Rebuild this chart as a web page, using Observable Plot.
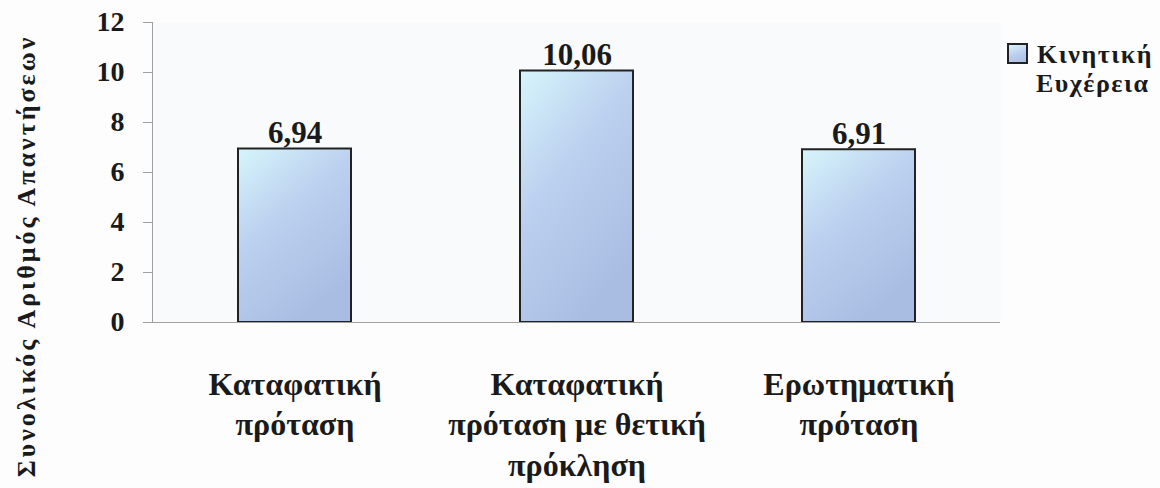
<!DOCTYPE html>
<html>
<head>
<meta charset="utf-8">
<script src="https://cdn.jsdelivr.net/npm/d3@7"></script>
<script src="https://cdn.jsdelivr.net/npm/@observablehq/plot@0.6"></script>
<style>
  html, body { margin: 0; padding: 0; background: #fdfdfd; }
  #wrap { position: relative; width: 1160px; height: 488px; font-family: "Liberation Serif", "Times New Roman", serif; font-weight: bold; color: #1a1a1a; }
  #ytitle { position: absolute; left: 12px; top: 256px; transform: rotate(-90deg); transform-origin: left top; }
  #ytitle span { display: block; white-space: nowrap; font-size: 26px; letter-spacing: 3px; transform: translate(-50%, 0); }
  #legend { position: absolute; left: 1007px; top: 40px; font-size: 26px; line-height: 29px; letter-spacing: 1.5px; }
  #legend .sw { display: inline-block; width: 17px; height: 17px; border: 2px solid #222; vertical-align: -1px; margin-right: 9px; background: linear-gradient(160deg, #d8f4fb 0%, #b9cdef 55%, #aabfe4 100%); }
  #legend .l2 { padding-left: 29px; }
</style>
</head>
<body>
<div id="wrap"></div>
<script>
// ---- data ----
const categories = ["Καταφατική πρόταση", "Καταφατική πρόταση με θετική πρόκληση", "Ερωτηματική πρόταση"];
const tickLabels = ["Καταφατική\nπρόταση", "Καταφατική\nπρόταση με θετική\nπρόκληση", "Ερωτηματική\nπρόταση"];
const values = [6.94, 10.06, 6.91];
const yTicks = [0, 2, 4, 6, 8, 10, 12];
const seriesName = ["Κινητική", "Ευχέρεια"];
const yTitle = "Συνολικός Αριθμός Απαντήσεων";

const font = "Liberation Serif";

// warm up the font synchronously
(function () {
  const ctx = document.createElement("canvas").getContext("2d");
  for (const s of [26, 28, 31, 32]) {
    ctx.font = `bold ${s}px "${font}"`;
    ctx.measureText("Καταφατική πρόταση 0123456789,");
  }
})();

const data = categories.map((c, i) => ({category: c, value: values[i]}));
const fmt = v => d3.format(".2f")(v).replace(".", ",");
const labelOf = new Map(categories.map((c, i) => [c, tickLabels[i]]));

function render() {
  const wrap = document.getElementById("wrap");
  wrap.innerHTML = "";
  const plot = Plot.plot({
    width: 1160,
    height: 488,
    marginLeft: 152,
    marginRight: 160,
    marginTop: 22,
    marginBottom: 166,
    style: {background: "transparent", fontFamily: "'Liberation Serif', serif", color: "#1a1a1a"},
    x: {domain: categories, paddingInner: 0.6, paddingOuter: 0.3, align: 0.5},
    y: {domain: [0, 12]},
    marks: [
      Plot.frame({fill: "#f8fafb", stroke: null}),
      Plot.frame({anchor: "left", stroke: "#a0a0a0", strokeWidth: 1}),
      Plot.axisY({
        ticks: yTicks, tickSize: 9, tickPadding: 19, stroke: "#a0a0a0",
        fontSize: 28, fontWeight: "bold", fontFamily: font, fill: "#1a1a1a",
        label: null
      }),
      Plot.axisX({
        tickSize: 0, tickPadding: 44, tickFormat: d => labelOf.get(d),
        fontSize: 32, fontWeight: "bold", fontFamily: font, fill: "#1a1a1a",
        lineHeight: 1.26, label: null
      }),
      Plot.barY(data, {x: "category", y: "value", fill: "url(#barGrad)", stroke: "#222", strokeWidth: 2}),
      Plot.ruleY([0], {stroke: "#a0a0a0", strokeWidth: 1.2}),
      Plot.text(data, {
        x: "category", y: "value", text: d => fmt(d.value), dy: -6, lineAnchor: "bottom",
        fontSize: 31, fontWeight: "bold", fontFamily: font, fill: "#1a1a1a"
      })
    ]
  });

  // gradient definition for bars
  const svg = d3.select(plot);
  const defs = svg.insert("defs", ":first-child");
  const g = defs.append("linearGradient").attr("id", "barGrad")
    .attr("x1", 0).attr("y1", 0).attr("x2", 0.55).attr("y2", 1);
  [["0%", "#d6f5fb"], ["45%", "#bcd1ef"], ["100%", "#a9bde3"]].forEach(([o, c]) =>
    g.append("stop").attr("offset", o).attr("stop-color", c));

  wrap.appendChild(plot);

  const yt = document.createElement("div");
  yt.id = "ytitle";
  yt.innerHTML = `<span>${yTitle}</span>`;
  wrap.appendChild(yt);

  const lg = document.createElement("div");
  lg.id = "legend";
  lg.innerHTML = `<div><span class="sw"></span>${seriesName[0]}</div><div class="l2">${seriesName[1]}</div>`;
  wrap.appendChild(lg);

  // force style resolution
  plot.querySelectorAll("text").forEach(t => void getComputedStyle(t).fontFamily);
  void getComputedStyle(lg).fontFamily;
  void wrap.offsetWidth;
}

render();
if (document.fonts && document.fonts.ready) document.fonts.ready.then(render);
</script>
</body>
</html>
